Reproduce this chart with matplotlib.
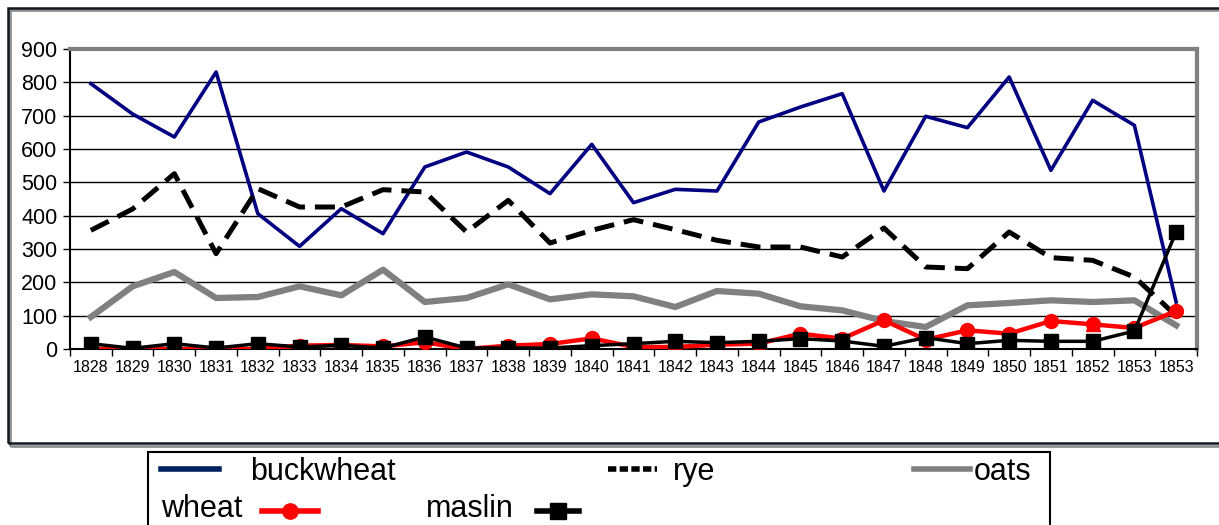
import numpy as np
import matplotlib.pyplot as plt
from matplotlib.lines import Line2D
from matplotlib.patches import Rectangle

# Donnees
years = ["1828", "1829", "1830", "1831", "1832", "1833", "1834", "1835", "1836",
         "1837", "1838", "1839", "1840", "1841", "1842", "1843", "1844", "1845",
         "1846", "1847", "1848", "1849", "1850", "1851", "1852", "1853", "1853"]
buckwheat = [796, 705, 636, 831, 406, 308, 421, 346, 546, 591, 546, 466, 614, 439,
             479, 474, 681, 726, 766, 474, 698, 664, 816, 536, 746, 671, 141]
rye = [356, 420, 526, 286, 481, 426, 426, 478, 471, 351, 446, 318, 356, 388,
       358, 326, 306, 306, 276, 363, 246, 241, 351, 274, 266, 216, 100]
oats = [96, 188, 231, 153, 156, 188, 161, 238, 141, 153, 194, 149, 164, 158,
        126, 174, 166, 128, 116, 84, 66, 131, 138, 146, 141, 146, 71]
wheat = [0, 0, 0, 0, 0, 10, 12, 8, 20, 0, 10, 15, 32, 6,
         6, 13, 16, 46, 31, 86, 28, 56, 46, 84, 74, 63, 114]
maslin = [16, 2, 16, 3, 16, 6, 11, 3, 36, 3, 3, 3, 10, 16,
          23, 19, 23, 31, 24, 8, 34, 16, 26, 23, 23, 54, 351]
yticks = [0, 100, 200, 300, 400, 500, 600, 700, 800, 900]

plt.rcParams["font.family"] = ["Liberation Sans", "DejaVu Sans"]

W, H = 1219, 525
fig = plt.figure(figsize=(W / 100, H / 100), dpi=100)


def fx(x):
    return x / W


def fy(y):
    return 1 - y / H


# cadre exterieur du graphique (avec ombre)
fig.add_artist(Rectangle((fx(10), fy(446)), fx(1230) - fx(10), fy(10) - fy(446),
                         transform=fig.transFigure, fill=False, ec="#909090", lw=2))
fig.add_artist(Rectangle((fx(8), fy(443)), fx(1230) - fx(8), fy(8) - fy(443),
                         transform=fig.transFigure, fill=False, ec="#101820", lw=1.8))

ax = fig.add_axes([fx(70), fy(349), fx(1197) - fx(70), fy(49) - fy(349)])
x = np.arange(len(years))

ax.plot(x, buckwheat, color="#000080", lw=2.6, zorder=3)
ax.plot(x, rye, color="black", lw=3.6, dashes=(4, 2), dash_capstyle="butt", zorder=3)
ax.plot(x, oats, color="#808080", lw=4.5, zorder=3)
ax.plot(x, wheat, color="red", lw=3.2, marker="o", ms=10, zorder=4)
ax.plot(x[24:25], wheat[24:25], color="red", ls="none", marker="^", ms=9.5, zorder=4)
ax.plot(x, maslin, color="black", lw=2.5, marker="s", ms=10.5, zorder=5)

ax.set_xlim(-0.5, len(years) - 0.5)
ax.set_ylim(0, 900)
ax.set_yticks(yticks)
ax.set_xticks(x)
ax.set_xticklabels(years, fontsize=11.5)
ax.set_xticks(np.arange(len(years) + 1) - 0.5, minor=True)
ax.tick_params(axis="x", which="major", length=0, pad=8)
ax.tick_params(axis="x", which="minor", length=5, width=1, direction="out")
ax.tick_params(axis="y", labelsize=15.5, length=5, width=1, pad=4)

ax.grid(axis="y", color="black", lw=1)
ax.set_axisbelow(True)
ax.spines["top"].set_color("#808080")
ax.spines["top"].set_linewidth(3)
ax.spines["right"].set_color("#808080")
ax.spines["right"].set_linewidth(3)
ax.spines["left"].set_linewidth(1.5)
ax.spines["bottom"].set_linewidth(1.5)

# legende faite a la main (disposition Excel)
fig.add_artist(Rectangle((fx(148), fy(540)), fx(1050) - fx(148), fy(452) - fy(540),
                         transform=fig.transFigure, fill=False, ec="black", lw=1.5))
handles = [
    (161, 219, 469, dict(color="#002060", lw=4)),
    (608, 657, 469, dict(color="black", lw=4, dashes=(1.5, 0.6))),
    (914, 970, 469, dict(color="#808080", lw=4)),
    (262, 318, 511, dict(color="red", lw=4, marker="o", ms=11, markevery=[1])),
    (537, 579, 511, dict(color="black", lw=4, marker="s", ms=11, markevery=[1])),
]
for x0, x1, yy, kw in handles:
    xm = (x0 + x1) / 2
    fig.add_artist(Line2D([fx(x0), fx(xm), fx(x1)], [fy(yy)] * 3,
                          transform=fig.transFigure, **kw))
labels = [("buckwheat", 250, 472), ("rye", 673, 472), ("oats", 974, 472),
          ("wheat", 161, 509), ("maslin", 426, 509)]
for txt, lx, ly in labels:
    fig.text(fx(lx), fy(ly), txt, fontsize=22, ha="left", va="center")

fig.savefig("out.png", dpi=100)
